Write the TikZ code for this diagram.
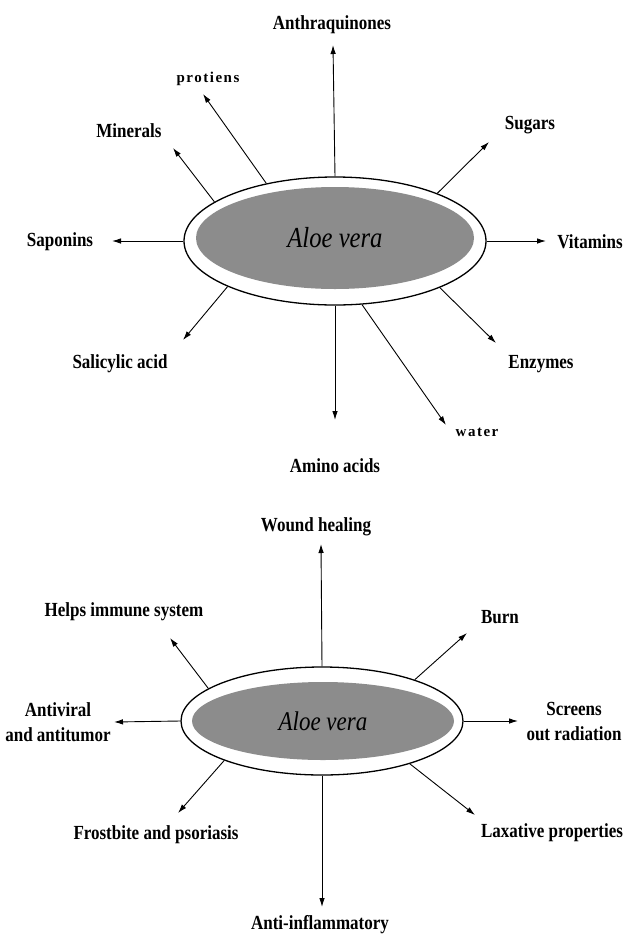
\documentclass[tikz,border=0pt]{standalone}
\usepackage{fontspec}
\setmainfont{Liberation Serif}
\newfontfamily\narrowfont[FakeStretch=0.85]{Liberation Serif}
\newfontfamily\spacedfont[LetterSpace=10]{Liberation Serif}
\usetikzlibrary{arrows.meta,shapes.geometric}
\definecolor{aloegray}{RGB}{140,140,140}
\tikzset{
  lbl/.style={inner sep=0pt,align=center,font=\narrowfont\bfseries\fontsize{20}{25}\selectfont},
  smalllbl/.style={inner sep=0pt,font=\spacedfont\bfseries\fontsize{15}{16}\selectfont},
  rim/.style={ellipse,draw=black,line width=1.3pt,fill=white,inner sep=0pt},
  core/.style={ellipse,fill=aloegray,inner sep=0pt,font=\narrowfont\itshape},
  ray/.style={->,line width=0.9pt}
}
\begin{document}
\begin{tikzpicture}[x=1pt,y=-1pt,>={Latex[length=9pt,width=5.5pt]}]
\useasboundingbox (0,0) rectangle (628,935);

% upper picture: what the plant contains
\node (rim1) at (335,241)[rim,minimum width=302pt,minimum height=128pt]{};
\node (core1) at (335,238)[core,minimum width=278pt,minimum height=102pt]{\fontsize{29}{30}\selectfont Aloe vera};

\node (anth) at (332,25)[lbl]{Anthraquinones};
\node (prot) at (208,79)[smalllbl]{protiens};
\node (minr) at (129,131)[lbl]{Minerals};
\node (sugr) at (530,125)[lbl]{Sugars};
\node (vitm) at (590,242)[lbl]{Vitamins};
\node (sapn) at (60,242)[lbl]{Saponins};
\node (salc) at (120,364)[lbl]{Salicylic acid};
\node (enzm) at (541,364)[lbl]{Enzymes};
\node (watr) at (477,432)[smalllbl]{water};
\node (amin) at (335,466)[lbl]{Amino acids};

\coordinate (anth-t) at (333,45);
\coordinate (prot-t) at (203,94);
\coordinate (minr-t) at (173,148);
\coordinate (sugr-t) at (489,142);
\coordinate (vitm-t) at (546,241);
\coordinate (sapn-t) at (112,241);
\coordinate (salc-t) at (183,340);
\coordinate (enzm-t) at (496,343);
\coordinate (watr-t) at (446,425);
\coordinate (amin-t) at (335,420);

\draw[ray] (rim1.90)--(anth-t);
\draw[ray] (rim1.140)--(prot-t);
\draw[ray] (rim1.162)--(minr-t);
\draw[ray] (rim1.25)--(sugr-t);
\draw[ray] (rim1.0)--(vitm-t);
\draw[ray] (rim1.180)--(sapn-t);
\draw[ray] (rim1.203)--(salc-t);
\draw[ray] (rim1.336)--(enzm-t);
\draw[ray] (rim1.293)--(watr-t);
\draw[ray] (rim1.270)--(amin-t);

% lower picture: what the plant is good for
\node (rim2) at (322,721)[rim,minimum width=282pt,minimum height=108pt]{};
\node (core2) at (323,721)[core,minimum width=262pt,minimum height=78pt]{\fontsize{27}{28}\selectfont Aloe vera};

\node (wond) at (316,527)[lbl]{Wound healing};
\node (help) at (124,612)[lbl]{Helps immune system};
\node (burn) at (500,617)[lbl]{Burn};
\node (scrn) at (574,721)[lbl]{Screens\\out radiation};
\node (anti) at (58,722)[lbl]{Antiviral\\and antitumor};
\node (fros) at (156,835)[lbl]{Frostbite and psoriasis};
\node (laxa) at (552,833)[lbl]{Laxative properties};
\node (infl) at (320,925)[lbl]{Anti-inflammatory};

\coordinate (wond-t) at (321,544);
\coordinate (help-t) at (170,638);
\coordinate (burn-t) at (467,633);
\coordinate (scrn-t) at (518,721);
\coordinate (anti-t) at (114,722);
\coordinate (fros-t) at (178,813);
\coordinate (laxa-t) at (475,815);
\coordinate (infl-t) at (322,907);

\draw[ray] (rim2.90)--(wond-t);
\draw[ray] (rim2.164)--(help-t);
\draw[ray] (rim2.24)--(burn-t);
\draw[ray] (rim2.0)--(scrn-t);
\draw[ray] (rim2.180)--(anti-t);
\draw[ray] (rim2.202)--(fros-t);
\draw[ray] (rim2.334)--(laxa-t);
\draw[ray] (rim2.270)--(infl-t);
\end{tikzpicture}
\end{document}
